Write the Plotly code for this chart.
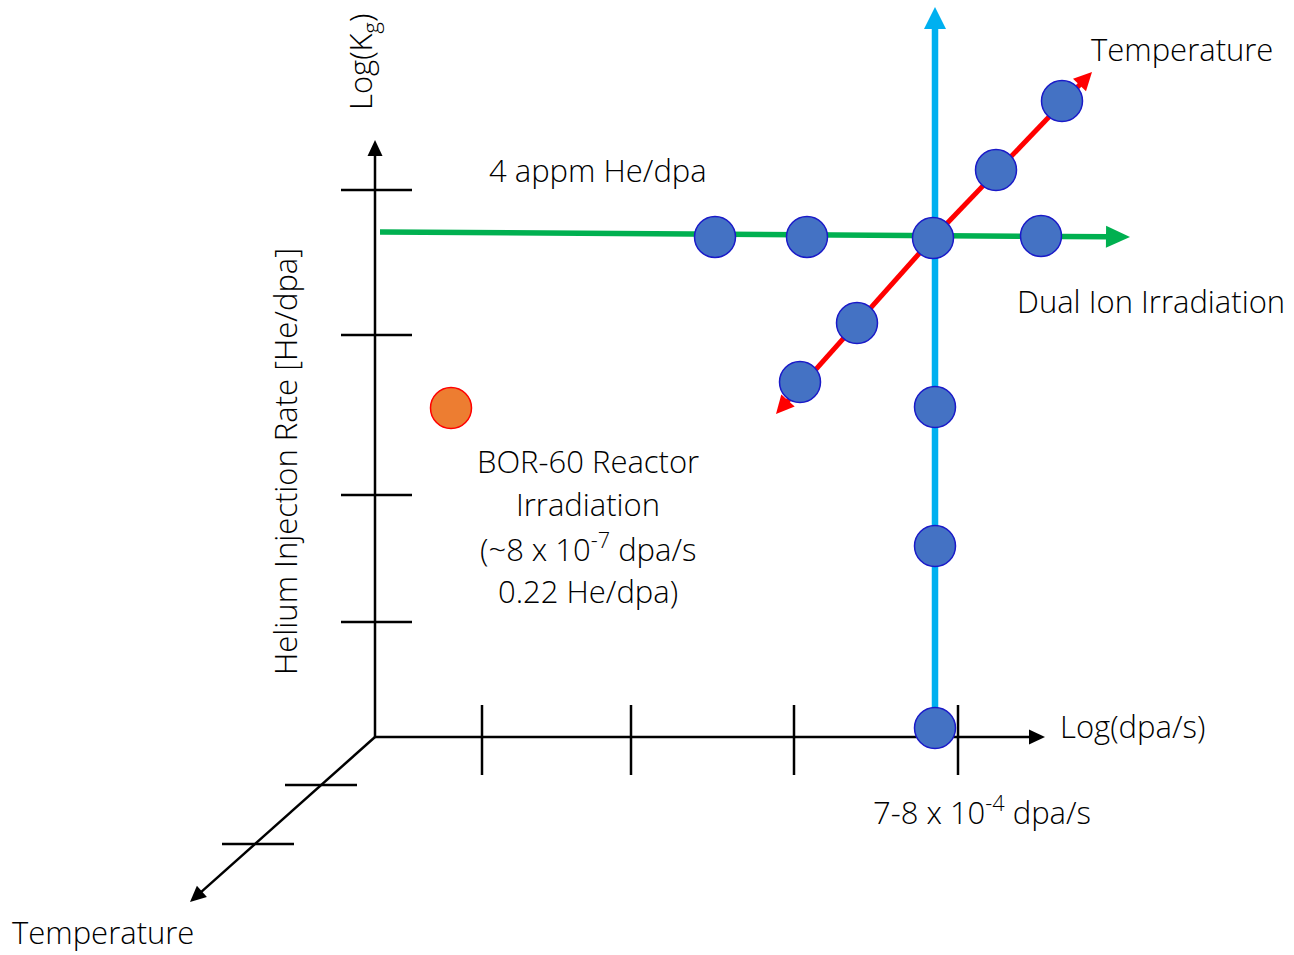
import plotly.graph_objects as go
import math

# ---- diagram data (diagram pixel coordinates, y downward) ----
origin = (375, 737)
y_axis_end = (375, 140)
x_axis_end = (1045, 737)
t_axis_end = (190, 902)
y_ticks = [190, 335, 495, 622]
x_ticks = [482, 631, 794, 958]
t_ticks = [(321, 785), (258, 844)]

green_line = [(380, 232), (1130, 237)]
cyan_line = [(935, 737), (935, 7)]
red_line_up = [(933, 238), (1092, 72)]
red_line_down = [(933, 238), (776, 414)]

dual_ion_x = [715, 807, 933, 1041, 996, 1062, 857, 800, 935, 935, 935]
dual_ion_y = [237, 237, 238, 236, 170, 101, 323, 382, 407, 546, 728]
reactor_x = [451]
reactor_y = [408]

labels = [
    ("Log(K<sub>g</sub>)", 362, 62, -90),
    ("Helium Injection Rate [He/dpa]", 285, 462, -90),
    ("4 appm He/dpa", 598, 170, 0),
    ("Temperature", 1182, 49, 0),
    ("Dual Ion Irradiation", 1151, 301, 0),
    ("BOR-60 Reactor", 588, 461, 0),
    ("Irradiation", 588, 504, 0),
    ("(~8 x 10<sup>-7</sup> dpa/s", 588, 547, 0),
    ("0.22 He/dpa)", 588, 591, 0),
    ("Log(dpa/s)", 1132, 726, 0),
    ("7-8 x 10<sup>-4</sup> dpa/s", 982, 810, 0),
    ("Temperature", 103, 932, 0),
]

FONT = "Open Sans"
shapes = []


def line(p, q, color, width):
    shapes.append(dict(type="line", x0=p[0], y0=p[1], x1=q[0], y1=q[1],
                       xref="x", yref="y", layer="below",
                       line=dict(color=color, width=width)))


def arrow(p, q, color, width, head_len, head_half):
    dx, dy = q[0] - p[0], q[1] - p[1]
    L = math.hypot(dx, dy)
    ux, uy = dx / L, dy / L
    bx, by = q[0] - ux * head_len, q[1] - uy * head_len
    line(p, (bx + ux * 2, by + uy * 2), color, width)
    nx, ny = -uy, ux
    path = "M {:.1f},{:.1f} L {:.1f},{:.1f} L {:.1f},{:.1f} Z".format(
        q[0], q[1], bx + nx * head_half, by + ny * head_half,
        bx - nx * head_half, by - ny * head_half)
    shapes.append(dict(type="path", path=path, xref="x", yref="y", layer="below",
                       fillcolor=color, line=dict(color=color, width=0)))


# black axes
arrow(origin, y_axis_end, "black", 2.5, 16, 7.5)
arrow(origin, x_axis_end, "black", 2.5, 16, 7.5)
arrow(origin, t_axis_end, "black", 2.5, 16, 7.5)
for ty in y_ticks:
    line((341, ty), (412, ty), "black", 2.5)
for tx in x_ticks:
    line((tx, 705), (tx, 775), "black", 2.5)
for cx, cy in t_ticks:
    line((cx - 36, cy), (cx + 36, cy), "black", 2.5)

# coloured arrows
arrow(green_line[0], green_line[1], "#00B050", 5.5, 24, 11)
arrow(cyan_line[0], cyan_line[1], "#00B0F0", 6.5, 22, 11)
arrow(red_line_up[0], red_line_up[1], "#FF0000", 5, 18, 9)
arrow(red_line_down[0], red_line_down[1], "#FF0000", 5, 18, 9)

fig = go.Figure()
fig.add_trace(go.Scatter(x=dual_ion_x, y=dual_ion_y, mode="markers",
                         marker=dict(size=41, color="#4472C4",
                                     line=dict(color="#1A1AC8", width=1.5)),
                         hoverinfo="skip", showlegend=False))
fig.add_trace(go.Scatter(x=reactor_x, y=reactor_y, mode="markers",
                         marker=dict(size=41, color="#ED7D31",
                                     line=dict(color="#FF0000", width=1.5)),
                         hoverinfo="skip", showlegend=False))

annotations = []
for text, x, y, ang in labels:
    annotations.append(dict(text=text, x=x, y=y, xref="x", yref="y",
                            showarrow=False, textangle=ang, xanchor="center",
                            yanchor="middle", borderpad=0,
                            font=dict(family=FONT, size=31, color="black", weight=300)))

fig.update_layout(
    width=1294, height=955,
    margin=dict(l=0, r=0, t=0, b=0),
    paper_bgcolor="white", plot_bgcolor="white",
    xaxis=dict(range=[0, 1294], visible=False, fixedrange=True),
    yaxis=dict(range=[955, 0], visible=False, fixedrange=True),
    shapes=shapes, annotations=annotations,
    showlegend=False,
)
fig.write_html("out.html")
